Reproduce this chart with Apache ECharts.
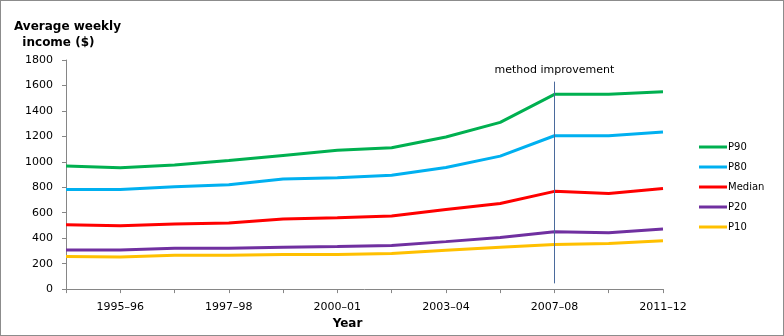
<!DOCTYPE html>
<html lang="en">
  <head>
    <meta charset="UTF-8" />
    <title>Average weekly income</title>
    <script src="https://cdn.jsdelivr.net/npm/echarts@6/dist/echarts.min.js"></script>
    <style>
      body { margin: 0; }
      #main { width: 782px; height: 334px; border: 1px solid #8c8c8c; }
    </style>
  </head>
  <body>
    <div id="main"></div>
    <script>
      // survey years (labels shown every second one)
      var years = ["1994–95", "1995–96", "1996–97", "1997–98", "1999–2000", "2000–01",
        "2002–03", "2003–04", "2005–06", "2007–08", "2009–10", "2011–12"];
      var p90 = [968, 953, 975, 1010, 1050, 1090, 1110, 1195, 1310, 1530, 1530, 1550];
      var p80 = [783, 783, 805, 820, 865, 875, 895, 955, 1045, 1205, 1205, 1235];
      var median = [505, 497, 512, 520, 550, 560, 575, 625, 672, 768, 752, 790];
      var p20 = [307, 307, 320, 320, 328, 335, 343, 373, 405, 450, 443, 472];
      var p10 = [257, 253, 265, 265, 272, 272, 280, 305, 328, 350, 358, 380];
      var yTicks = [0, 200, 400, 600, 800, 1000, 1200, 1400, 1600, 1800];
      var breakYear = "2007–08";

      var font = "DejaVu Sans";
      var axisGrey = "#868686";

      function line(name, data, color, extra) {
        var s = {
          name: name,
          type: "line",
          data: data,
          symbol: "none",
          lineStyle: { width: 3, color: color },
          itemStyle: { color: color },
        };
        return Object.assign(s, extra || {});
      }

      var chart = echarts.init(document.getElementById("main"));
      var option = {
        animation: false,
        textStyle: { fontFamily: font },
        grid: { left: 65, right: 120, top: 59, bottom: 42 },
        graphic: [
          {
            type: "text",
            left: 13,
            top: 18,
            style: {
              text: "Average weekly\n  income ($)",
              font: "bold 12px " + font,
              fill: "#000",
              lineHeight: 16,
            },
          },
        ],
        legend: {
          orient: "vertical",
          left: 693,
          top: 136,
          itemWidth: 28,
          itemHeight: 3,
          itemGap: 10,
          icon: "rect",
          textStyle: { fontSize: 10, fontFamily: font, color: "#000", padding: [0, 0, 0, -4] },
          data: ["P90", "P80", "Median", "P20", "P10"],
        },
        xAxis: {
          type: "category",
          data: years,
          boundaryGap: false,
          name: "Year",
          nameLocation: "middle",
          nameGap: 19,
          nameTextStyle: { fontWeight: "bold", fontSize: 12, fontFamily: font, color: "#000", padding: [0, 34, 0, 0] },
          axisLine: { lineStyle: { color: axisGrey } },
          axisTick: { length: 4, interval: 0, lineStyle: { color: axisGrey } },
          axisLabel: {
            interval: function (i) { return i % 2 === 1; },
            fontSize: 11,
            fontFamily: font,
            color: "#000",
            margin: 13,
          },
        },
        yAxis: {
          type: "value",
          min: 0,
          max: 1800,
          interval: 200,
          splitLine: { show: false },
          axisLine: { show: true, lineStyle: { color: axisGrey } },
          axisTick: { show: true, length: 4, lineStyle: { color: axisGrey } },
          axisLabel: {
            fontSize: 11,
            fontFamily: font,
            color: "#000",
            margin: 13,
            formatter: function (v) { return yTicks.indexOf(v) >= 0 ? String(v) : ""; },
          },
        },
        series: [
          line("P90", p90, "#00B050", {
            markLine: {
              silent: true,
              symbol: "none",
              lineStyle: { color: "#4a6a9c", width: 1, type: "solid" },
              label: {
                show: true,
                position: "end",
                formatter: "method improvement",
                fontSize: 11,
                fontFamily: font,
                color: "#000",
                distance: 6,
              },
              data: [[{ coord: [breakYear, 45] }, { coord: [breakYear, 1630] }]],
            },
          }),
          line("P80", p80, "#00B0F0"),
          line("Median", median, "#FF0000"),
          line("P20", p20, "#7030A0"),
          line("P10", p10, "#FFC000"),
        ],
      };
      chart.setOption(option);
    </script>
  </body>
</html>
